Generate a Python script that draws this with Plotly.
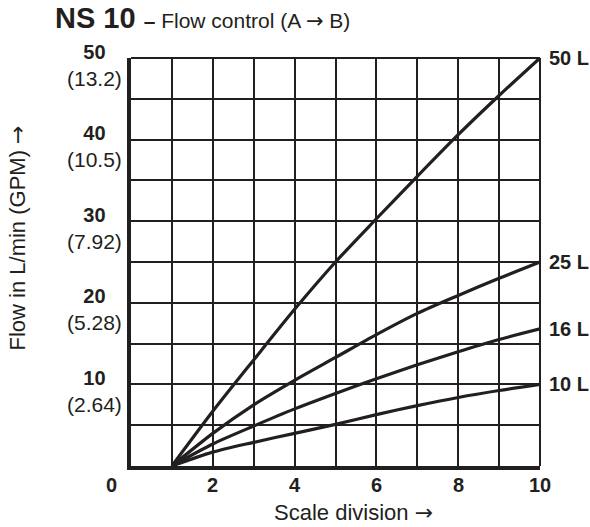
import plotly.graph_objects as go

# ---- data ----
scale_div = [1, 2, 3, 4, 5, 6, 7, 8, 9, 10]
flow_50 = [0, 6.7, 13.0, 19.2, 25.0, 30.3, 35.5, 40.6, 45.4, 50.0]
flow_25 = [0, 4.0, 7.5, 10.5, 13.3, 16.1, 18.7, 20.9, 23.0, 25.0]
flow_16 = [0, 2.7, 4.9, 7.0, 8.9, 10.7, 12.4, 14.0, 15.5, 16.8]
flow_10 = [0, 1.7, 2.9, 4.0, 5.1, 6.3, 7.4, 8.4, 9.25, 10.0]
series_names = ["50 L", "25 L", "16 L", "10 L"]
series_values = [flow_50, flow_25, flow_16, flow_10]

y_ticks = [10, 20, 30, 40, 50]
y_gpm = ["2.64", "5.28", "7.92", "10.5", "13.2"]
x_ticks = [0, 2, 4, 6, 8, 10]

INK = "#231f20"
FONT = "Liberation Sans, Arial, Helvetica, sans-serif"
ARROW = "<span style='font-family:DejaVu Sans'>→</span>"

fig = go.Figure()
for name, vals in zip(series_names, series_values):
    fig.add_trace(go.Scatter(
        x=scale_div, y=vals, mode="lines", name=name,
        line=dict(color=INK, width=3.2, shape="spline", smoothing=0.8),
        showlegend=False, hoverinfo="x+y+name"))

ann = []
# y tick labels (two lines, centred)
for v, g in zip(y_ticks, y_gpm):
    ann.append(dict(x=0, xref="paper", xanchor="right", xshift=-7,
                    y=v, yref="y", yanchor="middle", yshift=-7,
                    text=f"<b style='font-size:20px'>{v}</b><br>({g})", align="center",
                    showarrow=False, font=dict(size=21, color=INK, family=FONT)))
# x tick labels
for v in x_ticks:
    ann.append(dict(x=v, xref="x", xanchor="center",
                    xshift=(-20 if v == 0 else 0),
                    y=0, yref="paper", yanchor="middle", yshift=-19,
                    text=f"<b>{v}</b>", showarrow=False,
                    font=dict(size=20, color=INK, family=FONT)))
# curve end labels
for name, vals in zip(series_names, series_values):
    ann.append(dict(x=scale_div[-1], xref="x", xanchor="left", xshift=7,
                    y=vals[-1], yref="y", yanchor="middle",
                    text=f"<b>{name}</b>", showarrow=False,
                    font=dict(size=20, color=INK, family=FONT)))
# axis titles
ann.append(dict(x=0.545, xref="paper", xanchor="center",
                y=0, yref="paper", yanchor="middle", yshift=-46,
                text=f"Scale division {ARROW}", showarrow=False,
                font=dict(size=22, color=INK, family=FONT)))
ann.append(dict(x=0, xref="paper", xanchor="center", xshift=-114,
                y=0.5576, yref="paper", yanchor="middle", textangle=-90,
                text=f"Flow in L/min (GPM) {ARROW}", showarrow=False,
                font=dict(size=22, color=INK, family=FONT)))
# chart title
ann.append(dict(x=0, xref="paper", xanchor="left", xshift=-78,
                y=1, yref="paper", yanchor="middle", yshift=40,
                text="<b>NS 10</b> <b><span style='font-size:21px'>–</span></b>"
                     f"<span style='font-size:21px'> Flow control (A {ARROW} B)</span>",
                showarrow=False, font=dict(size=29, color=INK, family=FONT)))

fig.update_layout(
    width=590, height=527,
    margin=dict(l=131, r=50, t=58, b=61),
    paper_bgcolor="white", plot_bgcolor="white",
    annotations=ann,
    shapes=[
        dict(type="line", xref="paper", yref="paper", x0=0, x1=1, y0=1, y1=1,
             line=dict(color=INK, width=2)),
        dict(type="line", xref="paper", yref="paper", x0=1, x1=1, y0=0, y1=1,
             line=dict(color=INK, width=2)),
    ],
)
fig.update_xaxes(range=[0, 10], tickmode="linear", tick0=0, dtick=1,
                 showticklabels=False, showgrid=True, gridcolor=INK, gridwidth=1.5,
                 zeroline=False, showline=True, linecolor=INK, linewidth=3.5,
                 ticks="", fixedrange=True)
fig.update_yaxes(range=[0, 50], tickmode="linear", tick0=0, dtick=5,
                 showticklabels=False, showgrid=True, gridcolor=INK, gridwidth=1.5,
                 zeroline=False, showline=True, linecolor=INK, linewidth=3.5,
                 ticks="", fixedrange=True)

fig.write_html("out.html", config={"displayModeBar": False},
               post_script="document.body.style.margin='0';document.body.style.overflow='hidden';")
